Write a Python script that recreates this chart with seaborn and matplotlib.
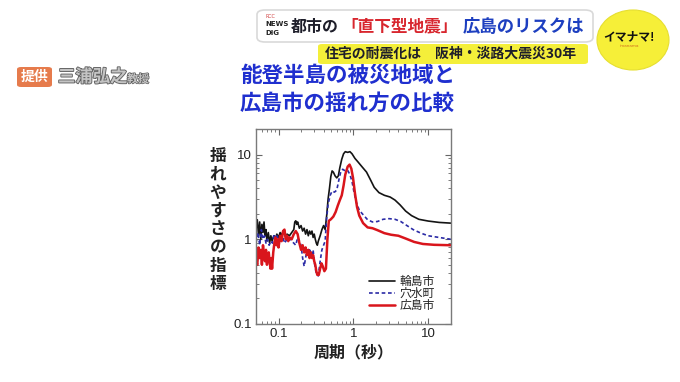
import numpy as np
import pandas as pd
import matplotlib
matplotlib.use("Agg")
import matplotlib.pyplot as plt
import matplotlib.ticker as mticker
import matplotlib.patheffects as pe
from matplotlib.patches import FancyBboxPatch, Ellipse
import seaborn as sns

# ---------------- data ----------------
sites = ["輪島市", "穴水町", "広島市"]

wajima_period = [0.050, 0.052, 0.054, 0.056, 0.058, 0.060, 0.062, 0.064, 0.066, 0.068,
                 0.070, 0.073, 0.076, 0.079, 0.082, 0.085, 0.088, 0.091, 0.095, 0.100,
                 0.105, 0.110, 0.115, 0.120, 0.125, 0.130, 0.140, 0.150, 0.160, 0.165,
                 0.170, 0.175, 0.180, 0.190, 0.200, 0.210, 0.220, 0.230, 0.240, 0.250,
                 0.260, 0.270, 0.280, 0.290, 0.300, 0.310, 0.320, 0.330, 0.340, 0.360,
                 0.380, 0.400, 0.420, 0.440, 0.460, 0.480, 0.500, 0.520, 0.540, 0.570,
                 0.600, 0.630, 0.660, 0.700, 0.740, 0.780, 0.840, 0.900, 0.960, 1.05,
                 1.15, 1.30, 1.50, 1.70, 1.90, 2.20, 2.60, 3.10, 3.60, 4.20,
                 5.00, 6.00, 7.50, 10.0, 14.0, 20.0]
wajima_value = [1.30, 1.70, 1.10, 1.60, 1.00, 1.50, 1.20, 1.60, 1.10, 1.30,
                0.95, 1.20, 0.90, 1.10, 0.95, 1.05, 1.10, 1.00, 1.15, 1.05,
                1.20, 1.10, 1.25, 1.15, 1.05, 1.15, 1.10, 1.20, 1.30, 1.60,
                1.65, 1.50, 1.60, 1.35, 1.45, 1.25, 1.35, 1.15, 1.30, 1.10,
                1.25, 1.15, 1.25, 1.05, 1.15, 1.00, 0.90, 0.85, 0.95, 1.10,
                1.30, 1.45, 1.30, 1.90, 3.00, 4.00, 5.50, 6.40, 6.20, 5.60,
                5.30, 5.60, 7.00, 8.80, 10.2, 10.8, 10.6, 10.8, 10.2, 9.00,
                8.20, 7.20, 6.20, 5.00, 4.10, 3.55, 3.30, 3.15, 2.90, 2.55,
                2.15, 1.90, 1.72, 1.64, 1.58, 1.55]

anamizu_period = [0.050, 0.053, 0.056, 0.059, 0.062, 0.065, 0.068, 0.071, 0.075, 0.079,
                  0.083, 0.087, 0.091, 0.095, 0.100, 0.105, 0.110, 0.115, 0.120, 0.130,
                  0.140, 0.150, 0.160, 0.170, 0.180, 0.190, 0.200, 0.210, 0.220, 0.230,
                  0.240, 0.250, 0.260, 0.270, 0.280, 0.290, 0.300, 0.310, 0.320, 0.330,
                  0.340, 0.360, 0.380, 0.400, 0.420, 0.440, 0.460, 0.490, 0.520, 0.560,
                  0.600, 0.640, 0.680, 0.720, 0.780, 0.840, 0.900, 0.960, 1.02, 1.10,
                  1.20, 1.35, 1.55, 1.80, 2.10, 2.50, 3.00, 3.60, 4.30, 5.20,
                  6.30, 8.00, 10.0, 14.0, 20.0]
anamizu_value = [0.90, 1.20, 0.85, 1.30, 1.00, 1.10, 0.90, 1.00, 0.85, 0.95,
                 0.90, 1.15, 1.00, 1.10, 0.95, 1.10, 1.00, 1.05, 0.90, 1.00,
                 1.05, 0.95, 0.90, 0.85, 1.05, 0.95, 0.85, 0.60, 0.48, 0.60,
                 0.75, 0.70, 0.75, 0.70, 0.65, 0.75, 0.55, 0.45, 0.40, 0.38,
                 0.37, 0.55, 0.75, 0.85, 0.95, 1.80, 2.60, 3.30, 3.70, 3.60,
                 3.80, 5.00, 6.30, 6.70, 6.40, 6.50, 5.80, 4.80, 3.60, 2.70,
                 2.20, 1.95, 1.70, 1.60, 1.62, 1.72, 1.75, 1.72, 1.62, 1.45,
                 1.30, 1.18, 1.10, 1.05, 1.00]

hiroshima_period = [0.050, 0.052, 0.054, 0.056, 0.058, 0.060, 0.062, 0.064, 0.066, 0.068,
                    0.070, 0.072, 0.074, 0.076, 0.078, 0.080, 0.082, 0.085, 0.088, 0.091,
                    0.094, 0.097, 0.100, 0.105, 0.110, 0.115, 0.120, 0.125, 0.130, 0.135,
                    0.140, 0.150, 0.160, 0.170, 0.180, 0.190, 0.200, 0.210, 0.220, 0.230,
                    0.240, 0.250, 0.260, 0.270, 0.280, 0.290, 0.300, 0.310, 0.320, 0.330,
                    0.345, 0.360, 0.375, 0.390, 0.410, 0.430, 0.450, 0.470, 0.500, 0.540,
                    0.580, 0.620, 0.660, 0.700, 0.740, 0.780, 0.840, 0.890, 0.940, 0.990,
                    1.05, 1.12, 1.20, 1.35, 1.55, 1.80, 2.10, 2.60, 3.20, 4.00,
                    5.00, 6.50, 8.50, 12.0, 20.0]
hiroshima_value = [0.55, 0.50, 0.80, 0.60, 0.75, 0.50, 0.85, 0.65, 0.55, 0.75,
                   0.50, 0.60, 0.70, 0.55, 0.45, 0.60, 0.45, 0.70, 0.90, 1.05,
                   0.85, 1.00, 0.80, 1.10, 0.95, 1.25, 1.30, 1.00, 1.10, 0.95,
                   1.05, 1.00, 1.15, 1.25, 1.15, 0.90, 0.75, 0.85, 0.70, 0.80,
                   0.65, 0.75, 0.60, 0.70, 0.60, 0.65, 0.55, 0.50, 0.42, 0.38,
                   0.38, 0.45, 0.52, 0.48, 0.42, 0.45, 1.00, 1.65, 1.72, 1.85,
                   2.10, 2.50, 2.90, 3.30, 4.30, 5.80, 7.20, 7.60, 6.80, 5.30,
                   3.50, 2.40, 1.90, 1.55, 1.38, 1.35, 1.28, 1.18, 1.13, 1.10,
                   1.02, 0.93, 0.88, 0.86, 0.85]

x_ticks = [0.1, 1, 10]
x_tick_labels = ["0.1", "1", "10"]
y_ticks = [0.1, 1, 10]
y_tick_labels = ["0.1", "1", "10"]

title_lines = ["能登半島の被災地域と", "広島市の揺れ方の比較"]
y_label = "揺れやすさの指標"
x_label = "周期（秒）"

# ---------------- build figure ----------------
sns.set_theme(style="ticks")
plt.rcParams["font.family"] = ["Noto Sans CJK JP", "DejaVu Sans"]

W, H = 680, 382
fig = plt.figure(figsize=(6.8, 3.82), dpi=100)
fig.patch.set_facecolor("white")

def fx(px):
    return px / W

def fy(py):
    return 1 - py / H

ax = fig.add_axes([fx(256), fy(324), fx(450.7) - fx(256), fy(129) - fy(324)])

df = pd.concat([
    pd.DataFrame({"period": wajima_period, "value": wajima_value, "site": sites[0]}),
    pd.DataFrame({"period": anamizu_period, "value": anamizu_value, "site": sites[1]}),
    pd.DataFrame({"period": hiroshima_period, "value": hiroshima_value, "site": sites[2]}),
], ignore_index=True)

palette = {sites[0]: "#141414", sites[1]: "#2b2ba6", sites[2]: "#d9151c"}
dashes = {sites[0]: "", sites[1]: (2.2, 1.6), sites[2]: ""}
sizes = {sites[0]: 1.2, sites[1]: 1.2, sites[2]: 1.8}

sns.lineplot(data=df, x="period", y="value", hue="site", style="site", size="site",
             palette=palette, dashes=dashes, sizes=sizes, hue_order=sites,
             style_order=sites, size_order=sites,
             estimator=None, sort=False, ax=ax, legend=True)

ax.set_xscale("log")
ax.set_yscale("log")
ax.set_xlim(0.05, 20)
ax.set_ylim(0.1, 20)

ax.xaxis.set_major_locator(mticker.FixedLocator(x_ticks))
ax.xaxis.set_major_formatter(mticker.FixedFormatter(x_tick_labels))
ax.yaxis.set_major_locator(mticker.FixedLocator(y_ticks))
ax.yaxis.set_major_formatter(mticker.FixedFormatter(y_tick_labels))
ax.xaxis.set_minor_locator(mticker.LogLocator(base=10, subs=np.arange(2, 10)))
ax.yaxis.set_minor_locator(mticker.LogLocator(base=10, subs=np.arange(2, 10)))
ax.xaxis.set_minor_formatter(mticker.NullFormatter())
ax.yaxis.set_minor_formatter(mticker.NullFormatter())

ax.tick_params(which="both", direction="in", top=True, right=True,
               colors="#666666", labelcolor="#222222", labelsize=9.5)
ax.tick_params(which="major", length=4, width=0.8, pad=3)
ax.tick_params(which="minor", length=2, width=0.6)
for lab in ax.get_xticklabels() + ax.get_yticklabels():
    lab.set_family(["Liberation Sans", "DejaVu Sans"])
for s in ax.spines.values():
    s.set_color("#7a7a7a")
    s.set_linewidth(1.0)

ax.set_xlabel(x_label, fontsize=11.5, fontweight="bold", color="#222222", va="center")
ax.xaxis.set_label_coords(0.5, (324 - 352) / 195.0)
ax.set_ylabel("\n".join(y_label), rotation=0, fontsize=12, fontweight="bold",
              color="#222222", va="center", ha="center", linespacing=1.02)
ax.yaxis.set_label_coords((218 - 256) / 194.7, (324 - 220) / 195.0)

leg = ax.legend(loc="lower right", bbox_to_anchor=((441 - 256) / 194.7, (324 - 318) / 195.0),
                frameon=False, fontsize=8.5, handlelength=2.2, handletextpad=0.4,
                labelspacing=-0.1, borderpad=0.0)
for t in leg.get_texts():
    t.set_color("#222222")

# ---------------- titles / overlays ----------------
fig.text(fx(240), fy(75), title_lines[0], fontsize=15.5, fontweight="bold",
         color="#1f2fcf", ha="left", va="center")
fig.text(fx(240), fy(103), title_lines[1], fontsize=15.5, fontweight="bold",
         color="#1f2fcf", ha="left", va="center")

# header white box
hb = FancyBboxPatch((fx(257), fy(42)), fx(593) - fx(257), fy(10) - fy(42),
                    boxstyle="round,pad=0,rounding_size=0.012", transform=fig.transFigure,
                    facecolor="white", edgecolor="#d9d9d9", linewidth=1.2, zorder=5)
fig.patches.append(hb)
fig.text(fx(266), fy(16), "RCC", fontsize=3.5, color="#d04040", ha="left", va="center",
         zorder=6, family=["DejaVu Sans"])
fig.text(fx(265), fy(24), "NEWS", fontsize=5, fontweight="bold", color="#222222",
         ha="left", va="center", zorder=6, family=["DejaVu Sans"])
fig.text(fx(265), fy(33), "DIG", fontsize=5, fontweight="bold", color="#222222",
         ha="left", va="center", zorder=6, family=["DejaVu Sans"])
fig.text(fx(291), fy(26.5), "都市の", fontsize=11.5, fontweight="bold", color="#1e1e2a",
         ha="left", va="center", zorder=6)
fig.text(fx(341), fy(26.5), "「直下型地震」", fontsize=12, fontweight="bold",
         color="#d8262e", ha="left", va="center", zorder=6)
fig.text(fx(463), fy(26.5), "広島のリスクは", fontsize=12.5, fontweight="bold",
         color="#1d3fc0", ha="left", va="center", zorder=6)

# yellow sub banner
sb = FancyBboxPatch((fx(318), fy(64)), fx(588) - fx(318), fy(44) - fy(64),
                    boxstyle="round,pad=0,rounding_size=0.006", transform=fig.transFigure,
                    facecolor="#f4ef3a", edgecolor="none", zorder=5)
fig.patches.append(sb)
fig.text(fx(325), fy(54), "住宅の耐震化は", fontsize=10, fontweight="bold",
         color="#1e1e2a", ha="left", va="center", zorder=6)
fig.text(fx(435), fy(54), "阪神・淡路大震災30年", fontsize=10, fontweight="bold",
         color="#1e1e2a", ha="left", va="center", zorder=6)

# yellow circle logo
circ = Ellipse((fx(633), fy(40)), fx(72), 60 / H, transform=fig.transFigure,
               facecolor="#f6ef38", edgecolor="#e6df30", linewidth=0.8, zorder=5)
fig.patches.append(circ)
fig.text(fx(629), fy(37), "イマナマ!", fontsize=8.5, fontweight="bold", color="#111111",
         ha="center", va="center", zorder=6)
fig.text(fx(629), fy(46), "imanama", fontsize=3, color="#d07020", ha="center",
         va="center", zorder=6, family=["DejaVu Sans"])

# credit
cb = FancyBboxPatch((fx(17), fy(87)), fx(35), 20 / H,
                    boxstyle="round,pad=0,rounding_size=0.006", transform=fig.transFigure,
                    facecolor="#e67b4c", edgecolor="none", zorder=5)
fig.patches.append(cb)
fig.text(fx(34.5), fy(77), "提供", fontsize=10, fontweight="bold", color="white",
         ha="center", va="center", zorder=6)
t1 = fig.text(fx(58), fy(77), "三浦弘之", fontsize=12.5, fontweight="bold", color="#c4c4c4",
              ha="left", va="center", zorder=6)
t1.set_path_effects([pe.Stroke(linewidth=1.3, foreground="#606060"), pe.Normal()])
t2 = fig.text(fx(127), fy(79), "教授", fontsize=8, fontweight="bold", color="#c4c4c4",
              ha="left", va="center", zorder=6)
t2.set_path_effects([pe.Stroke(linewidth=1.0, foreground="#606060"), pe.Normal()])

fig.savefig("out.png", dpi=100, facecolor="white")
